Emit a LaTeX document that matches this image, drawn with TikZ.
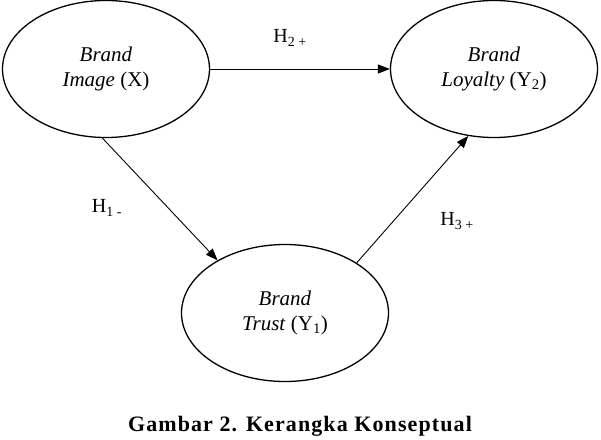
\documentclass[tikz,border=0pt]{standalone}
\usepackage{fontspec}
\setmainfont{Liberation Serif}
\newfontfamily\capfont[LetterSpace=5]{Liberation Serif}
\usetikzlibrary{shapes.geometric,arrows.meta}
\tikzset{
  var/.style={ellipse, draw, line width=1.3pt, minimum width=207pt, minimum height=137pt,
    inner sep=0pt, align=center, font=\fontsize{21}{25}\selectfont},
  conn/.style={line width=0.9pt, -{Triangle[length=12pt,width=9pt]}},
  hlab/.style={font=\fontsize{20}{24}\selectfont, inner sep=0pt}
}
\begin{document}
\begin{tikzpicture}[x=1pt,y=-1pt]
\useasboundingbox (0,0) rectangle (601,439);
\node[var] (img) at (106,69) {\textit{Brand}\\\textit{Image} (X)};
\node[var] (loy) at (494,69) {\textit{Brand}\\\textit{Loyalty} (Y\textsubscript{2})};
\node[var] (tru) at (285,313) {\textit{Brand}\\\textit{Trust} (Y\textsubscript{1})};
\draw[conn] (img.east) -- (loy.west);
\draw[conn] (img.-93) -- (tru.142);
\draw[conn] (tru.35.5) -- (loy.-111);
\node[hlab] (h2) at (290,38) {H\textsubscript{2 +}};
\node[hlab] (h1) at (107,208) {H\textsubscript{1 -}};
\node[hlab] (h3) at (457,221) {H\textsubscript{3 +}};
\node[font=\capfont\bfseries\fontsize{22}{26}\selectfont, inner sep=0pt, anchor=base] (cap) at (300,431) {Gambar 2. Kerangka Konseptual};
\end{tikzpicture}
\end{document}
